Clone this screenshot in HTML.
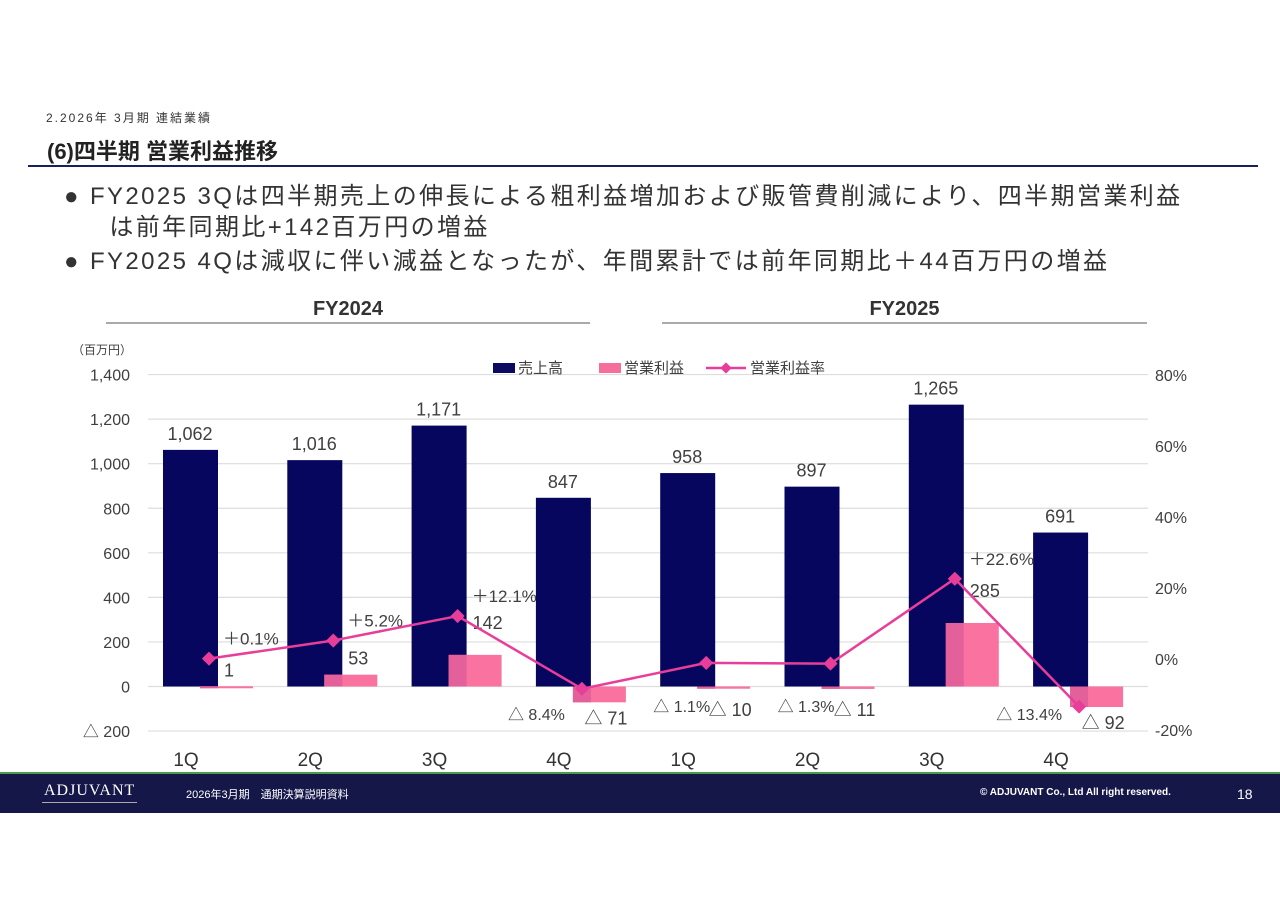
<!DOCTYPE html>
<html><head><meta charset="utf-8">
<style>
body{margin:0;width:1280px;height:905px;background:#fff;position:relative;overflow:hidden;font-family:"Liberation Sans","Noto Sans CJK JP",sans-serif;color:#333}
.abs{position:absolute}
</style></head><body>
<div class="abs" style="left:46px;top:109px;font-size:12px;letter-spacing:2px;color:#333">2.2026年 3月期 連結業績</div>
<div class="abs" style="left:47px;top:134px;font-size:22px;font-weight:bold;color:#222">(6)四半期 営業利益推移</div>
<div class="abs" style="left:28px;top:165px;width:1230px;height:2px;background:#1a1f5e"></div>
<div class="abs" style="left:64px;top:181px;font-size:24px;line-height:31px;color:#333;width:1200px;letter-spacing:2.4px;white-space:nowrap">●&nbsp;FY2025 3Qは四半期売上の伸長による粗利益増加および販管費削減により、四半期営業利益<br>&nbsp;&nbsp;&nbsp;&nbsp;&nbsp;は前年同期比+142百万円の増益</div>
<div class="abs" style="left:64px;top:246px;font-size:24px;line-height:31px;color:#333;letter-spacing:2.4px;white-space:nowrap">●&nbsp;FY2025 4Qは減収に伴い減益となったが、年間累計では前年同期比＋44百万円の増益</div>
<div class="abs" style="left:106px;top:298px;width:484px;text-align:center;font-size:20px;font-weight:bold;color:#333">FY2024</div>
<div class="abs" style="left:106px;top:322px;width:484px;height:2px;background:#aaa"></div>
<div class="abs" style="left:662px;top:298px;width:485px;text-align:center;font-size:20px;font-weight:bold;color:#333">FY2025</div>
<div class="abs" style="left:662px;top:322px;width:485px;height:2px;background:#aaa"></div>

<svg class="abs" style="left:0;top:0" width="1280" height="905" id="chart"></svg>

<div class="abs" style="left:0;top:772px;width:1280px;height:39px;background:#141748;border-top:2px solid #4a9a4a"></div>
<div class="abs" style="left:42px;top:782px;font-family:'Liberation Serif',serif;font-size:16px;color:#fff;letter-spacing:1px;border-bottom:1px solid #aaa;padding:0 2px 2px">ADJUVANT</div>
<div class="abs" style="left:186px;top:786px;font-size:11px;color:#fff">2026年3月期　通期決算説明資料</div>
<div class="abs" style="left:980px;top:787px;font-size:10px;color:#fff;font-weight:bold">© ADJUVANT Co., Ltd All right reserved.</div>
<div class="abs" style="left:1237px;top:786px;font-size:14px;color:#fff">18</div>

<script>
const categories=["1Q","2Q","3Q","4Q","1Q","2Q","3Q","4Q"];
const sales=[1062,1016,1171,847,958,897,1265,691];
const opProfit=[1,53,142,-71,-10,-11,285,-92];
const opMargin=[0.1,5.2,12.1,-8.4,-1.1,-1.3,22.6,-13.4];
const leftTicks=[1400,1200,1000,800,600,400,200,0,-200];
const rightTicks=[80,60,40,20,0,-20];
const NS="http://www.w3.org/2000/svg";
const svg=document.getElementById('chart');
function yL(v){return 686.5-v*0.2228;}
function yR(p){return 659-p*3.55;}
function slot(i){return 146+i*124.3;}
function mk(t,a,name){const e=document.createElementNS(NS,t);for(const k in a)e.setAttribute(k,a[k]);


svg.appendChild(e);return e;}
function txt(x,y,s,size,anchor,name,fill){const e=mk('text',{x:x,y:y,'font-size':size,'text-anchor':anchor||'middle',fill:fill||'#404040','font-family':'Liberation Sans,Noto Sans CJK JP,sans-serif'},name);e.textContent=s;return e;}
function fmt(v){const s=Math.abs(v).toLocaleString('en-US');return v<0?'△ '+s:s;}
function fmtP(p){return p<0?'△ '+Math.abs(p).toFixed(1)+'%':'＋'+p.toFixed(1)+'%';}
leftTicks.forEach(v=>{mk('line',{x1:148,x2:1148,y1:yL(v),y2:yL(v),stroke:'#ddd','stroke-width':1.2},'gridline');
txt(130,yL(v)+6,v<0?'△ '+Math.abs(v):v.toLocaleString('en-US'),16,'end','y-left-tick-label');});
rightTicks.forEach(p=>txt(1155,yR(p)+6,p+'%',16,'start','y-right-tick-label'));
txt(72,354,'（百万円）',12,'start','y-axis-unit');
mk('rect',{x:493,y:363,width:22,height:10,fill:'#0a0a5e'},'legend-sales-swatch');
txt(518,373,'売上高',15,'start','legend-sales');
mk('rect',{x:599,y:363,width:22,height:10,fill:'#f76d9c'},'legend-op-swatch');
txt(624,373,'営業利益',15,'start','legend-op-profit');
mk('line',{x1:706,x2:746,y1:368,y2:368,stroke:'#e83e9a','stroke-width':2.5},'legend-margin-line');
mk('rect',{x:722,y:364,width:8,height:8,fill:'#e83e9a',transform:'rotate(45 726 368)'},'legend-margin-marker');
txt(750,373,'営業利益率',15,'start','legend-op-margin');
categories.forEach((c,i)=>{
 const s=slot(i);
 mk('rect',{x:s+17,y:yL(sales[i]),width:55,height:yL(0)-yL(sales[i]),fill:'#06065e'},'bar-sales-'+i);
 txt(s+44,yL(sales[i])-10,fmt(sales[i]),18,'middle','sales-value-label');
 const v=opProfit[i],y0=Math.min(yL(v),yL(0)),h=Math.max(Math.abs(yL(v)-yL(0)),2);
 mk('rect',{x:s+54,y:y0,width:53,height:h,fill:'#fa72a0'},'bar-op-profit-'+i);
 mk('rect',{x:s+54,y:y0,width:18,height:h,fill:'#e4609a'},'bar-op-overlap-'+i);
 if(v>=0) txt(s+78,yL(v)-(v>100?26:10),fmt(v),18,'start','op-value-label');
 else txt(s+87,Math.max(yL(v)+22,716),fmt(v),18,'middle','op-value-label');
 txt(s+40,766,c,19,'middle','x-category-label','#333');
});
const pts=opMargin.map((p,i)=>[slot(i)+63,yR(p)]);
mk('polyline',{points:pts.map(p=>p.join(',')).join(' '),fill:'none',stroke:'#e83e9a','stroke-width':2.5},'line-op-margin');
pts.forEach((p,i)=>{
 mk('rect',{x:p[0]-5,y:p[1]-5,width:10,height:10,fill:'#e83e9a',transform:`rotate(45 ${p[0]} ${p[1]})`},'point-op-margin-'+i);
 const m=opMargin[i];
 if(m>=0) txt(p[0]+14,p[1]-14,fmtP(m),17,'start','margin-value-label');
 else if(m>-5) txt(p[0]+4,Math.max(p[1]+12,712),fmtP(m),16,'end','margin-value-label');
 else txt(p[0]-17,Math.max(p[1]+12,720),fmtP(m),16,'end','margin-value-label');
});
</script>
</body></html>
